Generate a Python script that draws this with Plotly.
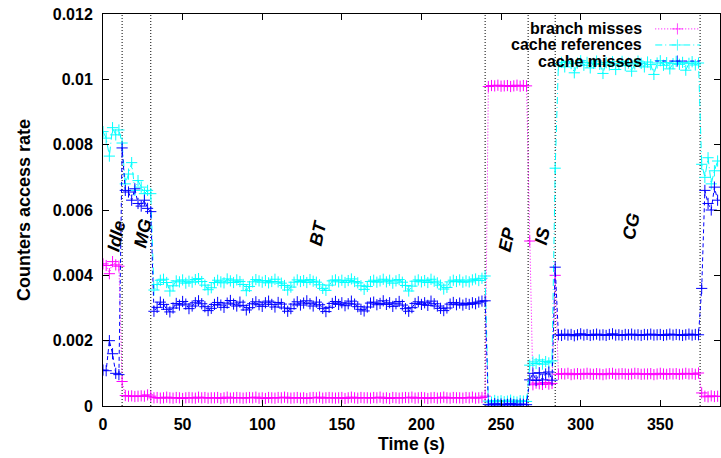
import plotly.graph_objects as go

# ---------------- data (sampled every 2 s) ----------------
time_s = list(range(0, 388, 2))

branch_misses = (
    # Idle 0-10
    [0.00435, 0.00430, 0.00405, 0.00442, 0.00432, 0.00428]
    # t=12
    + [0.00075]
    # MG 14-28
    + [0.00032, 0.00030, 0.00031, 0.00029, 0.00030, 0.00031, 0.00030, 0.00034]
    # t=30
    + [0.00030]
    # BT 32-238
    + [0.00025, 0.00026, 0.00024, 0.00025, 0.00027, 0.00025, 0.00024, 0.00026,
       0.00025, 0.00023, 0.00025, 0.00026, 0.00025, 0.00024, 0.00027, 0.00025,
       0.00026, 0.00024, 0.00025, 0.00025, 0.00026, 0.00023, 0.00025, 0.00027,
       0.00024, 0.00025, 0.00026, 0.00025, 0.00024, 0.00025, 0.00026, 0.00025,
       0.00027, 0.00024, 0.00025, 0.00023, 0.00026, 0.00025, 0.00024, 0.00026,
       0.00025, 0.00027, 0.00025, 0.00024, 0.00025, 0.00026, 0.00024, 0.00025,
       0.00023, 0.00025, 0.00026, 0.00025, 0.00027, 0.00024, 0.00025, 0.00026,
       0.00025, 0.00024, 0.00025, 0.00026, 0.00023, 0.00025, 0.00027, 0.00025,
       0.00024, 0.00026, 0.00025, 0.00025, 0.00024, 0.00026, 0.00025, 0.00027,
       0.00024, 0.00025, 0.00023, 0.00026, 0.00025, 0.00024, 0.00025, 0.00026,
       0.00025, 0.00027, 0.00024, 0.00025, 0.00026, 0.00025, 0.00023, 0.00025,
       0.00026, 0.00024, 0.00025, 0.00027, 0.00025, 0.00024, 0.00026, 0.00025,
       0.00025, 0.00024, 0.00026, 0.00025, 0.00027, 0.00024, 0.00025, 0.00026]
    # t=240
    + [0.00030]
    # EP 242-266
    + [0.00978, 0.00981, 0.00980, 0.00982, 0.00979, 0.00980, 0.00981, 0.00978,
       0.00980, 0.00982, 0.00979, 0.00981, 0.00980]
    # t=268
    + [0.00505]
    # IS 270-282
    + [0.00065, 0.00070, 0.00068, 0.00066, 0.00072, 0.00067, 0.00069]
    # t=284
    + [0.00400]
    # CG 286-374
    + [0.00097, 0.00099, 0.00098, 0.00100, 0.00096, 0.00098, 0.00099, 0.00097,
       0.00098, 0.00100, 0.00098, 0.00097, 0.00099, 0.00098, 0.00096, 0.00098,
       0.00099, 0.00100, 0.00097, 0.00098, 0.00099, 0.00098, 0.00097, 0.00098,
       0.00100, 0.00099, 0.00097, 0.00098, 0.00098, 0.00099, 0.00096, 0.00098,
       0.00100, 0.00098, 0.00097, 0.00099, 0.00098, 0.00099, 0.00097, 0.00098,
       0.00100, 0.00098, 0.00099, 0.00097, 0.00101]
    # t=376
    + [0.00040]
    # MG 378-386
    + [0.00030, 0.00028, 0.00031, 0.00029, 0.00030]
)

cache_references = (
    [0.00840, 0.00820, 0.00765, 0.00852, 0.00830, 0.00845]
    + [0.00805]
    + [0.00680, 0.00710, 0.00745, 0.00660, 0.00690, 0.00670, 0.00650, 0.00660]
    + [0.00650]
    + [0.00355, 0.00372, 0.00385, 0.00388, 0.00378, 0.00352, 0.00368, 0.00383,
       0.00380, 0.00386, 0.00376, 0.00382, 0.00379, 0.00387, 0.00390, 0.00381,
       0.00370, 0.00356, 0.00362, 0.00378, 0.00385, 0.00380, 0.00377, 0.00389,
       0.00383, 0.00378, 0.00386, 0.00381, 0.00372, 0.00353, 0.00366, 0.00380,
       0.00387, 0.00383, 0.00379, 0.00384, 0.00377, 0.00381, 0.00388, 0.00380,
       0.00376, 0.00369, 0.00355, 0.00364, 0.00379, 0.00386, 0.00381, 0.00384,
       0.00378, 0.00387, 0.00382, 0.00379, 0.00371, 0.00360, 0.00354, 0.00370,
       0.00383, 0.00386, 0.00380, 0.00385, 0.00378, 0.00384, 0.00389, 0.00381,
       0.00377, 0.00368, 0.00357, 0.00366, 0.00381, 0.00385, 0.00379, 0.00383,
       0.00388, 0.00380, 0.00385, 0.00376, 0.00383, 0.00387, 0.00379, 0.00369,
       0.00352, 0.00367, 0.00382, 0.00386, 0.00380, 0.00384, 0.00378, 0.00388,
       0.00382, 0.00377, 0.00370, 0.00358, 0.00363, 0.00380, 0.00385, 0.00381,
       0.00386, 0.00379, 0.00383, 0.00380, 0.00386, 0.00389, 0.00384, 0.00391]
    + [0.00398]
    + [0.00015, 0.00012, 0.00017, 0.00014, 0.00016, 0.00013, 0.00015, 0.00018,
       0.00014, 0.00012, 0.00016, 0.00015, 0.00014]
    + [0.00125]
    + [0.00135, 0.00130, 0.00141, 0.00128, 0.00136, 0.00132, 0.00138]
    + [0.00728]
    + [0.01045, 0.01052, 0.01038, 0.01055, 0.01048, 0.01020, 0.01050, 0.01057,
       0.01043, 0.01052, 0.01035, 0.01049, 0.01056, 0.01046, 0.01018, 0.01051,
       0.01044, 0.01054, 0.01030, 0.01048, 0.01055, 0.01042, 0.01050, 0.01025,
       0.01047, 0.01056, 0.01049, 0.01038, 0.01053, 0.01045, 0.01015, 0.01050,
       0.01057, 0.01043, 0.01051, 0.01032, 0.01048, 0.01055, 0.01046, 0.01052,
       0.01028, 0.01049, 0.01054, 0.01044, 0.01050]
    + [0.00740]
    + [0.00700, 0.00760, 0.00680, 0.00720, 0.00750]
)

cache_misses = (
    [0.00110, 0.00108, 0.00200, 0.00160, 0.00100, 0.00096]
    + [0.00790]
    + [0.00660, 0.00655, 0.00630, 0.00665, 0.00620, 0.00612, 0.00630, 0.00605]
    + [0.00595]
    + [0.00290, 0.00302, 0.00318, 0.00311, 0.00296, 0.00288, 0.00300, 0.00314,
       0.00309, 0.00320, 0.00312, 0.00298, 0.00306, 0.00316, 0.00322, 0.00313,
       0.00304, 0.00292, 0.00299, 0.00311, 0.00317, 0.00309, 0.00302, 0.00315,
       0.00323, 0.00312, 0.00306, 0.00318, 0.00308, 0.00294, 0.00301, 0.00313,
       0.00319, 0.00310, 0.00305, 0.00316, 0.00321, 0.00311, 0.00303, 0.00317,
       0.00312, 0.00300, 0.00290, 0.00298, 0.00312, 0.00319, 0.00309, 0.00315,
       0.00322, 0.00313, 0.00306, 0.00318, 0.00310, 0.00299, 0.00289, 0.00302,
       0.00314, 0.00320, 0.00311, 0.00316, 0.00307, 0.00313, 0.00321, 0.00312,
       0.00304, 0.00296, 0.00291, 0.00303, 0.00315, 0.00318, 0.00310, 0.00314,
       0.00322, 0.00311, 0.00316, 0.00305, 0.00313, 0.00320, 0.00309, 0.00298,
       0.00290, 0.00301, 0.00314, 0.00319, 0.00311, 0.00316, 0.00308, 0.00321,
       0.00313, 0.00306, 0.00299, 0.00292, 0.00300, 0.00312, 0.00317, 0.00310,
       0.00315, 0.00309, 0.00314, 0.00311, 0.00316, 0.00313, 0.00318, 0.00321]
    + [0.00322]
    + [0.00005, 0.00003, 0.00007, 0.00004, 0.00006, 0.00003, 0.00005, 0.00008,
       0.00004, 0.00003, 0.00006, 0.00005, 0.00004]
    + [0.00080]
    + [0.00100, 0.00078, 0.00102, 0.00080, 0.00098, 0.00104, 0.00079]
    + [0.00425]
    + [0.00218, 0.00216, 0.00220, 0.00217, 0.00219, 0.00215, 0.00218, 0.00221,
       0.00217, 0.00219, 0.00216, 0.00218, 0.00220, 0.00217, 0.00218, 0.00216,
       0.00219, 0.00221, 0.00217, 0.00218, 0.00216, 0.00219, 0.00218, 0.00220,
       0.00217, 0.00218, 0.00216, 0.00219, 0.00218, 0.00220, 0.00217, 0.00218,
       0.00219, 0.00216, 0.00218, 0.00220, 0.00217, 0.00219, 0.00218, 0.00216,
       0.00218, 0.00220, 0.00217, 0.00219, 0.00218]
    + [0.00360]
    + [0.00660, 0.00620, 0.00600, 0.00670, 0.00630]
)

series_names = ["branch misses", "cache references", "cache misses"]
series_colors = ["#ff00ff", "#00ffff", "#0000ff"]
series_dashes = ["1px,2px", "7px,3px,1px,3px", "4px,3px"]

phase_bounds = [12, 30, 240, 267, 284, 375]
phase_labels = ["Idle", "MG", "BT", "EP", "IS", "CG"]
phase_label_x = [8.5, 25, 135, 254, 276, 332]
phase_label_y = [0.0052, 0.0053, 0.0053, 0.0051, 0.0052, 0.0055]

y_tick_vals = [0, 0.002, 0.004, 0.006, 0.008, 0.01, 0.012]
y_tick_text = ["0", "0.002", "0.004", "0.006", "0.008", "0.01", "0.012"]
x_tick_vals = [0, 50, 100, 150, 200, 250, 300, 350]

FONT = "Liberation Sans, Arial, sans-serif"

fig = go.Figure()
all_series = [branch_misses, cache_references, cache_misses]
for name, vals, col, dash in zip(series_names, all_series, series_colors, series_dashes):
    fig.add_trace(go.Scatter(
        x=time_s[:len(vals)], y=vals, name=name, mode="lines+markers",
        line=dict(color=col, width=1, dash=dash),
        marker=dict(symbol="cross-thin", size=8, line=dict(color=col, width=1)),
        showlegend=False,
    ))

# custom legend (text right-aligned, sample on the right, as in gnuplot)
legend_y = [0.962, 0.921, 0.880]
for name, col, dash, ly in zip(series_names, series_colors, series_dashes, legend_y):
    fig.add_trace(go.Scatter(
        x=[0.895, 0.931, 0.968], y=[ly, ly, ly], xaxis="x2", yaxis="y2",
        mode="lines+markers", showlegend=False, hoverinfo="skip",
        line=dict(color=col, width=1, dash=dash),
        marker=dict(symbol="cross-thin", size=[0, 8, 0], line=dict(color=col, width=1)),
    ))
    fig.add_annotation(x=0.877, y=ly, xref="paper", yref="paper", text=name,
                       showarrow=False, xanchor="right", yanchor="middle",
                       font=dict(family=FONT, size=16, color="black", weight="bold"))

for b in phase_bounds:
    fig.add_shape(type="line", x0=b, x1=b, y0=0, y1=1, xref="x", yref="paper",
                  line=dict(color="black", width=1, dash="1px,2px"), layer="below")

for lab, lx, ly in zip(phase_labels, phase_label_x, phase_label_y):
    fig.add_annotation(x=lx, y=ly, text=lab, showarrow=False, textangle=-78,
                       font=dict(family=FONT, size=18, color="black", weight="bold", style="italic"))

axis_common = dict(showline=True, linecolor="black", linewidth=1, mirror="ticks",
                   ticks="inside", ticklen=6, tickcolor="black", showgrid=False,
                   zeroline=False,
                   tickfont=dict(family=FONT, size=16, color="black", weight="bold"))

fig.update_layout(
    width=721, height=458,
    margin=dict(l=103, r=1, t=14, b=52),
    paper_bgcolor="white", plot_bgcolor="white",
    xaxis=dict(range=[0, 387.5], tickvals=x_tick_vals, ticklabelstandoff=4,
               title=dict(text="Time (s)", standoff=5,
                          font=dict(family=FONT, size=17.5, color="black", weight="bold")),
               **axis_common),
    yaxis=dict(range=[0, 0.012], tickvals=y_tick_vals, ticktext=y_tick_text,
               ticklabelstandoff=6,
               title=dict(text="Counters access rate", standoff=17,
                          font=dict(family=FONT, size=18, color="black", weight="bold")),
               **axis_common),
    xaxis2=dict(range=[0, 1], overlaying="x", visible=False),
    yaxis2=dict(range=[0, 1], overlaying="y", visible=False),
)

fig.write_html("out.html")
